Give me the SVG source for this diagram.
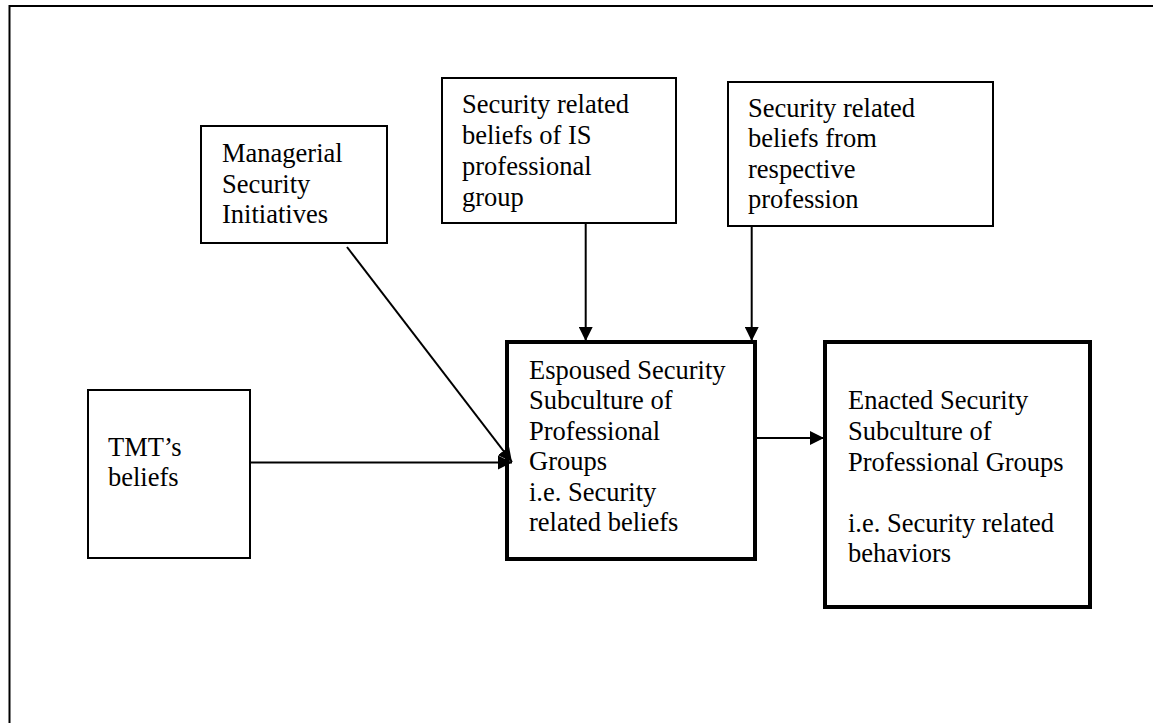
<svg xmlns="http://www.w3.org/2000/svg" width="1153" height="723" viewBox="0 0 1153 723">
<style>
.box{fill:#fff;stroke:#000;stroke-width:2}
.thick{fill:#fff;stroke:#000;stroke-width:4}
.t{font-family:"Liberation Serif","Times New Roman",serif;font-size:26.5px;fill:#000}
.c{stroke:#000;stroke-width:2;fill:none}
</style>
<defs>
<marker id="ah" markerUnits="userSpaceOnUse" markerWidth="14" markerHeight="14" viewBox="0 0 14 14" refX="14" refY="7" orient="auto">
<path d="M0,0 L14,7 L0,14 z" fill="#000"/>
</marker>
</defs>
<rect width="1153" height="723" fill="#fff"/>
<path d="M9.5,723 V6 H1153" fill="none" stroke="#000" stroke-width="2"/>
<g id="managerial">
<rect class="box" x="201" y="126" width="186" height="117"/>
<text class="t" x="222" y="162">Managerial</text>
<text class="t" x="222" y="193">Security</text>
<text class="t" x="222" y="223">Initiatives</text>
</g>
<g id="is-beliefs">
<rect class="box" x="442" y="78" width="234" height="145"/>
<text class="t" x="462" y="113">Security related</text>
<text class="t" x="462" y="144">beliefs of IS</text>
<text class="t" x="462" y="175">professional</text>
<text class="t" x="462" y="206">group</text>
</g>
<g id="profession-beliefs">
<rect class="box" x="728" y="82" width="265" height="144"/>
<text class="t" x="748" y="116.5">Security related</text>
<text class="t" x="748" y="147">beliefs from</text>
<text class="t" x="748" y="177.5">respective</text>
<text class="t" x="748" y="208">profession</text>
</g>
<g id="tmt">
<rect class="box" x="88" y="390" width="162" height="168"/>
<text class="t" x="108" y="456">TMT’s</text>
<text class="t" x="108" y="486">beliefs</text>
</g>
<g id="espoused">
<rect class="thick" x="507" y="342" width="248" height="217"/>
<text class="t" x="529" y="379">Espoused Security</text>
<text class="t" x="529" y="409">Subculture of</text>
<text class="t" x="529" y="439.5">Professional</text>
<text class="t" x="529" y="470">Groups</text>
<text class="t" x="529" y="500.5">i.e. Security</text>
<text class="t" x="529" y="531">related beliefs</text>
</g>
<g id="enacted">
<rect class="thick" x="825" y="342" width="265" height="265"/>
<text class="t" x="848" y="409">Enacted Security</text>
<text class="t" x="848" y="440">Subculture of</text>
<text class="t" x="848" y="471">Professional Groups</text>
<text class="t" x="848" y="532">i.e. Security related</text>
<text class="t" x="848" y="562">behaviors</text>
</g>
<g id="connectors">
<line class="c" x1="585.7" y1="223" x2="585.7" y2="341" marker-end="url(#ah)"/>
<line class="c" x1="751.7" y1="226" x2="751.7" y2="341" marker-end="url(#ah)"/>
<line class="c" x1="250" y1="462.5" x2="512" y2="462.5" marker-end="url(#ah)"/>
<line class="c" x1="347" y1="247" x2="512" y2="462" marker-end="url(#ah)"/>
<line class="c" x1="755" y1="438" x2="824" y2="438" marker-end="url(#ah)"/>
</g>
</svg>
